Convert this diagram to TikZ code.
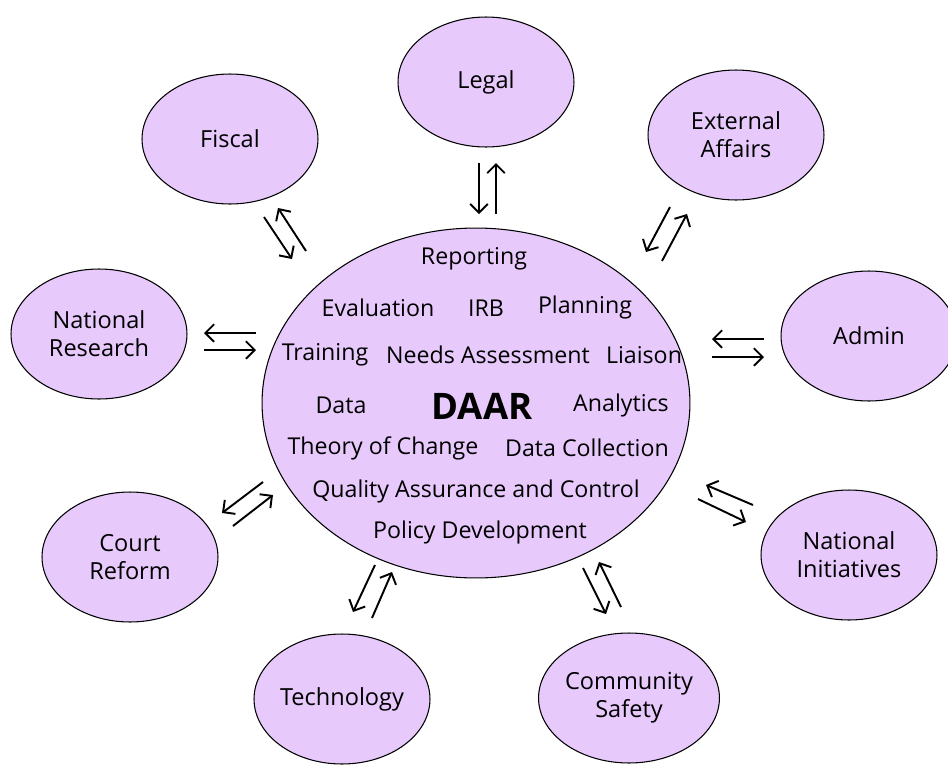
\documentclass[tikz,border=0pt]{standalone}
\usepackage{fontspec}
\setmainfont{Open Sans}
\usetikzlibrary{shapes.geometric,arrows.meta}
\definecolor{lilac}{RGB}{231,201,251}

\begin{document}
\begin{tikzpicture}[x=0.02cm,y=-0.02cm,
  unit/.style={ellipse,draw,line width=0.6pt,fill=lilac,minimum width=3.52cm,minimum height=2.6cm,inner sep=0pt,align=center,font=\fontsize{13.4}{16}\selectfont},
  task/.style={inner sep=0pt,font=\fontsize{13.2}{14}\selectfont},
  flow/.style={line width=1.1pt,-{Straight Barb[length=5pt,width=10pt]}}]
\useasboundingbox (0,0) rectangle (948,768);

% hub
\node[ellipse,draw,line width=0.6pt,fill=lilac,minimum width=8.56cm,minimum height=7cm] (hub) at (476,403) {};
\node[task] (reporting) at (474,259) {Reporting};
\node[task] (evaluation) at (378,308) {Evaluation};
\node[task] (irb) at (486,308) {IRB};
\node[task] (planning) at (585,307) {Planning};
\node[task] (training) at (325,355) {Training};
\node[task] (needs) at (488,355) {Needs Assessment};
\node[task] (liaison) at (644,355) {Liaison};
\node[task] (data) at (341,405) {Data};
\node[inner sep=0pt,font=\fontsize{20.8}{24}\selectfont\bfseries] (daar) at (482,406) {DAAR};
\node[task] (analytics) at (621,405) {Analytics};
\node[task] (theory) at (383,448) {Theory of Change};
\node[task] (collection) at (587,448) {Data Collection};
\node[task] (quality) at (476,491) {Quality Assurance and Control};
\node[task] (policy) at (480,532) {Policy Development};

% units around the hub
\node[unit] (legal) at (486,82) {Legal};
\node[unit] (fiscal) at (230,139) {Fiscal};
\node[unit] (external) at (736,135) {External\\Affairs};
\node[unit] (admin) at (869,336) {Admin};
\node[unit] (research) at (99,334) {National\\Research};
\node[unit] (court) at (130,557) {Court\\Reform};
\node[unit] (initiatives) at (849,555) {National\\Initiatives};
\node[unit] (technology) at (342,699) {Technology};
\node[unit] (safety) at (629,698) {Community\\Safety};

% arrow ends
\path (479,163) coordinate (lg1) (479,214) coordinate (lg2)
      (496,214) coordinate (lg3) (496,163) coordinate (lg4);
\path (264,217) coordinate (fi1) (292,259) coordinate (fi2)
      (306,251) coordinate (fi3) (278,208) coordinate (fi4);
\path (670,207) coordinate (ex1) (646,252) coordinate (ex2)
      (662,261) coordinate (ex3) (687,214) coordinate (ex4);
\path (764,339) coordinate (ad1) (712,339) coordinate (ad2)
      (712,357) coordinate (ad3) (764,357) coordinate (ad4);
\path (256,333) coordinate (re1) (204,333) coordinate (re2)
      (204,350) coordinate (re3) (256,350) coordinate (re4);
\path (263,482) coordinate (co1) (222,513) coordinate (co2)
      (233,526) coordinate (co3) (273,495) coordinate (co4);
\path (375,565) coordinate (te1) (353,612) coordinate (te2)
      (372,618) coordinate (te3) (392,572) coordinate (te4);
\path (583,568) coordinate (sa1) (606,614) coordinate (sa2)
      (621,607) coordinate (sa3) (599,562) coordinate (sa4);
\path (753,505) coordinate (in1) (706,485) coordinate (in2)
      (698,499) coordinate (in3) (746,522) coordinate (in4);

\foreach \p in {lg,fi,ex,ad,re,co,te,sa,in}{
  \draw[flow] (\p1) -- (\p2);
  \draw[flow] (\p3) -- (\p4);
}
\end{tikzpicture}
\end{document}
